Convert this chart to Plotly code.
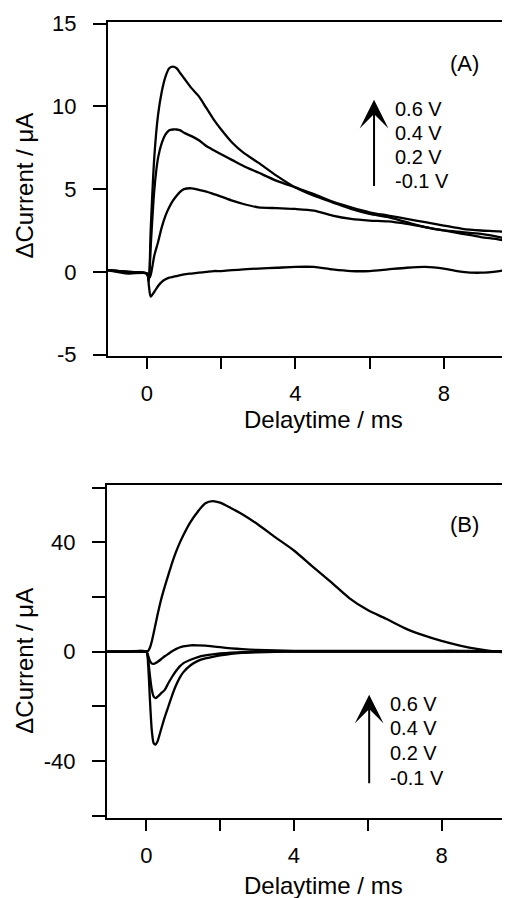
import plotly.graph_objects as go

# ---- panel (A) ----
T_A = [-1.05, -0.5, 0, 0.05, 0.1, 0.2, 0.3, 0.4, 0.5, 0.6, 0.7, 0.8, 0.9, 1.0, 1.2, 1.4, 1.6, 1.8,
       2.0, 2.3, 2.6, 3.0, 3.5, 4.0, 4.5, 5.0, 5.5, 6.0, 6.5, 7.0, 7.5, 8.0, 8.5, 9.0, 9.5, 9.8]
A_06 = [0.1, 0.0, -0.1, -0.5, 2.5, 7.0, 9.5, 10.9, 11.8, 12.3, 12.4, 12.3, 12.0, 11.7, 11.1, 10.6, 9.9, 9.2,
        8.6, 7.8, 7.2, 6.6, 5.8, 5.1, 4.6, 4.2, 3.8, 3.5, 3.3, 3.0, 2.7, 2.5, 2.3, 2.1, 1.95, 1.8]
A_04 = [0.1, 0.0, -0.1, -0.6, 1.5, 5.0, 6.9, 7.8, 8.3, 8.55, 8.6, 8.6, 8.55, 8.4, 8.2, 7.95, 7.6, 7.35,
        7.1, 6.75, 6.4, 6.0, 5.5, 5.1, 4.7, 4.25, 3.9, 3.6, 3.4, 3.2, 3.0, 2.8, 2.6, 2.5, 2.45, 2.35]
A_02 = [0.1, 0.0, -0.1, -0.4, -0.2, 1.0, 1.8, 2.7, 3.4, 3.9, 4.3, 4.6, 4.85, 5.0, 5.05, 4.95, 4.85, 4.7,
        4.55, 4.3, 4.1, 3.9, 3.85, 3.8, 3.7, 3.4, 3.2, 3.1, 3.05, 2.9, 2.7, 2.5, 2.4, 2.3, 2.1, 1.9]
A_m01 = [0.1, -0.1, -0.1, -0.8, -1.5, -1.2, -0.85, -0.6, -0.45, -0.35, -0.3, -0.25, -0.2, -0.15, -0.1, -0.05, 0.0, 0.05,
         0.05, 0.1, 0.15, 0.2, 0.25, 0.3, 0.3, 0.15, 0.05, 0.05, 0.15, 0.25, 0.3, 0.2, 0.0, -0.05, 0.05, 0.15]

# ---- panel (B) ----
T_B = [-1.06, -0.5, 0, 0.05, 0.1, 0.15, 0.2, 0.25, 0.3, 0.4, 0.5, 0.6, 0.7, 0.8, 0.9, 1.0, 1.2, 1.4, 1.6, 1.8,
       2.0, 2.3, 2.6, 3.0, 3.5, 4.0, 4.5, 5.0, 5.5, 6.0, 6.5, 7.0, 7.5, 8.0, 8.5, 9.0, 9.5, 9.86]
B_06 = [0.0, 0.0, 0.0, 0.3, 1.5, 3.8, 6.8, 10.0, 13.2, 19.0, 23.8, 28.2, 32.5, 36.3, 39.6, 42.5, 47.5, 51.3, 54.3, 55.1,
        54.5, 52.5, 50.3, 46.8, 41.8, 37.0, 31.2, 25.5, 19.6, 15.2, 12.0, 8.6, 6.0, 3.9, 2.2, 0.9, 0.0, -0.3]
B_04 = [0.0, 0.0, 0.0, -1.5, -3.5, -4.4, -4.5, -4.2, -3.8, -2.8, -1.7, -0.8, 0.1, 0.9, 1.5, 1.9, 2.3, 2.3, 2.2, 1.9,
        1.6, 1.2, 0.9, 0.6, 0.4, 0.3, 0.3, 0.3, 0.3, 0.3, 0.3, 0.3, 0.3, 0.3, 0.3, 0.2, 0.2, 0.2]
B_02 = [0.0, 0.0, 0.0, -3.0, -9.0, -14.0, -16.5, -17.0, -16.6, -15.3, -14.0, -11.5, -9.2, -7.2, -5.5, -4.3, -3.0, -2.0, -1.4, -1.0,
        -0.7, -0.4, -0.2, -0.1, 0.0, 0.0, 0.0, 0.0, 0.0, 0.0, 0.0, 0.0, 0.0, 0.0, 0.0, 0.0, 0.0, 0.0]
B_m01 = [0.0, 0.0, 0.0, -5.0, -18.0, -29.0, -33.5, -34.0, -33.0, -28.5, -24.0, -20.0, -16.0, -12.5, -9.7, -7.6, -5.0, -3.4, -2.5, -1.9,
         -1.4, -0.8, -0.5, -0.3, -0.1, 0.0, 0.0, 0.0, 0.0, 0.0, 0.0, 0.0, 0.0, 0.0, 0.0, 0.0, 0.0, 0.0]

X_TICKS = [0, 2, 4, 6, 8]
X_TEXT = ["0", "", "4", "", "8"]
YA_TICKS = [-5, 0, 5, 10, 15]
YA_TEXT = ["-5", "0", "5", "10", "15"]
YB_TICKS = [-60, -40, -20, 0, 20, 40, 60]
YB_TEXT = ["", "-40", "", "0", "", "40", ""]
LABELS = ["0.6 V", "0.4 V", "0.2 V", "-0.1 V"]

W, H = 502, 910
FONT = "Liberation Sans, Arial, sans-serif"
INK = "black"


def fx(p):  # target window pixel -> paper x
    return (p - 8) / W


def fy(p):  # target window pixel -> paper y (corrected against earlier captures)
    p = p - (8 - 0.00754 * (p - 22))
    return 1 - ((p - 10.4) / 0.983) / H


fig = go.Figure()
for y in (A_06, A_04, A_02, A_m01):
    fig.add_trace(go.Scatter(x=T_A, y=y, mode="lines", xaxis="x", yaxis="y",
                             line=dict(color=INK, width=2.3, shape="spline", smoothing=0.7)))
for y in (B_06, B_04, B_02, B_m01):
    fig.add_trace(go.Scatter(x=T_B, y=y, mode="lines", xaxis="x2", yaxis="y2",
                             line=dict(color=INK, width=2.3, shape="spline", smoothing=0.7)))

xax = dict(showline=True, linecolor=INK, linewidth=2, mirror=True, ticks="outside", ticklen=11,
           tickwidth=2, tickcolor=INK, tickvals=X_TICKS, ticktext=X_TEXT, showgrid=False, zeroline=False,
           tickfont=dict(family=FONT, size=22, color=INK), ticklabelstandoff=6,
           ticklabeloverflow="allow")
yax = dict(showline=True, linecolor=INK, linewidth=2, ticks="outside", ticklen=13, tickwidth=2,
           tickcolor=INK, showgrid=False, zeroline=False,
           tickfont=dict(family=FONT, size=22, color=INK), ticklabelstandoff=12,
           ticklabeloverflow="allow")

fig.update_layout(
    width=W, height=H, showlegend=False,
    paper_bgcolor="white", plot_bgcolor="white",
    margin=dict(l=0, r=0, t=0, b=0),
    xaxis=dict(xax, domain=[fx(108), 1], range=[-1.05, (510 - 147) / 37.1], anchor="y"),
    yaxis=dict(yax, domain=[fy(356), fy(22)], range=[-5.06, 15.12], anchor="x",
               tickvals=YA_TICKS, ticktext=YA_TEXT),
    xaxis2=dict(xax, domain=[fx(107), 1], range=[-1.065, (510 - 146.3) / 36.9], anchor="y2"),
    yaxis2=dict(yax, domain=[fy(818), fy(485)], range=[-60.8, 61.1], anchor="x2",
                tickvals=YB_TICKS, ticktext=YB_TEXT),
)

annos = []
# axis titles
for yc in (186, 661):
    annos.append(dict(text="ΔCurrent / μA", xref="paper", yref="paper", x=fx(25), y=fy(yc),
                      xanchor="center", yanchor="middle", textangle=-90, showarrow=False,
                      font=dict(family=FONT, size=24, color=INK)))
for yc in (420, 886):
    annos.append(dict(text="Delaytime / ms", xref="paper", yref="paper", x=fx(323), y=fy(yc),
                      xanchor="center", yanchor="middle", showarrow=False,
                      font=dict(family=FONT, size=24, color=INK)))

# panel letters
annos.append(dict(text="(A)", xref="x", yref="y", x=8.57, y=12.6, showarrow=False,
                  font=dict(family=FONT, size=22, color=INK)))
annos.append(dict(text="(B)", xref="x2", yref="y2", x=8.61, y=46.5, showarrow=False,
                  font=dict(family=FONT, size=22, color=INK)))

# arrows
annos.append(dict(text="", xref="x", yref="y", axref="x", ayref="y", x=6.12, y=10.4, ax=6.12, ay=5.1,
                  showarrow=True, arrowhead=3, arrowsize=2.4, arrowwidth=2, arrowcolor=INK))
annos.append(dict(text="", xref="x2", yref="y2", axref="x2", ayref="y2", x=6.04, y=-15.75, ax=6.04, ay=-48.7,
                  showarrow=True, arrowhead=3, arrowsize=2.4, arrowwidth=2, arrowcolor=INK))

# voltage labels
for lab, yv in zip(LABELS, [9.85, 8.4, 6.95, 5.5]):
    annos.append(dict(text=lab, xref="x", yref="y", x=6.63, y=yv, xanchor="left", showarrow=False,
                      font=dict(family=FONT, size=20, color=INK)))
for lab, yv in zip(LABELS, [-19.0, -27.8, -37.0, -46.2]):
    annos.append(dict(text=lab, xref="x2", yref="y2", x=6.55, y=yv, xanchor="left", showarrow=False,
                      font=dict(family=FONT, size=20, color=INK)))

fig.update_layout(annotations=annos)
fig.write_html("out.html")
